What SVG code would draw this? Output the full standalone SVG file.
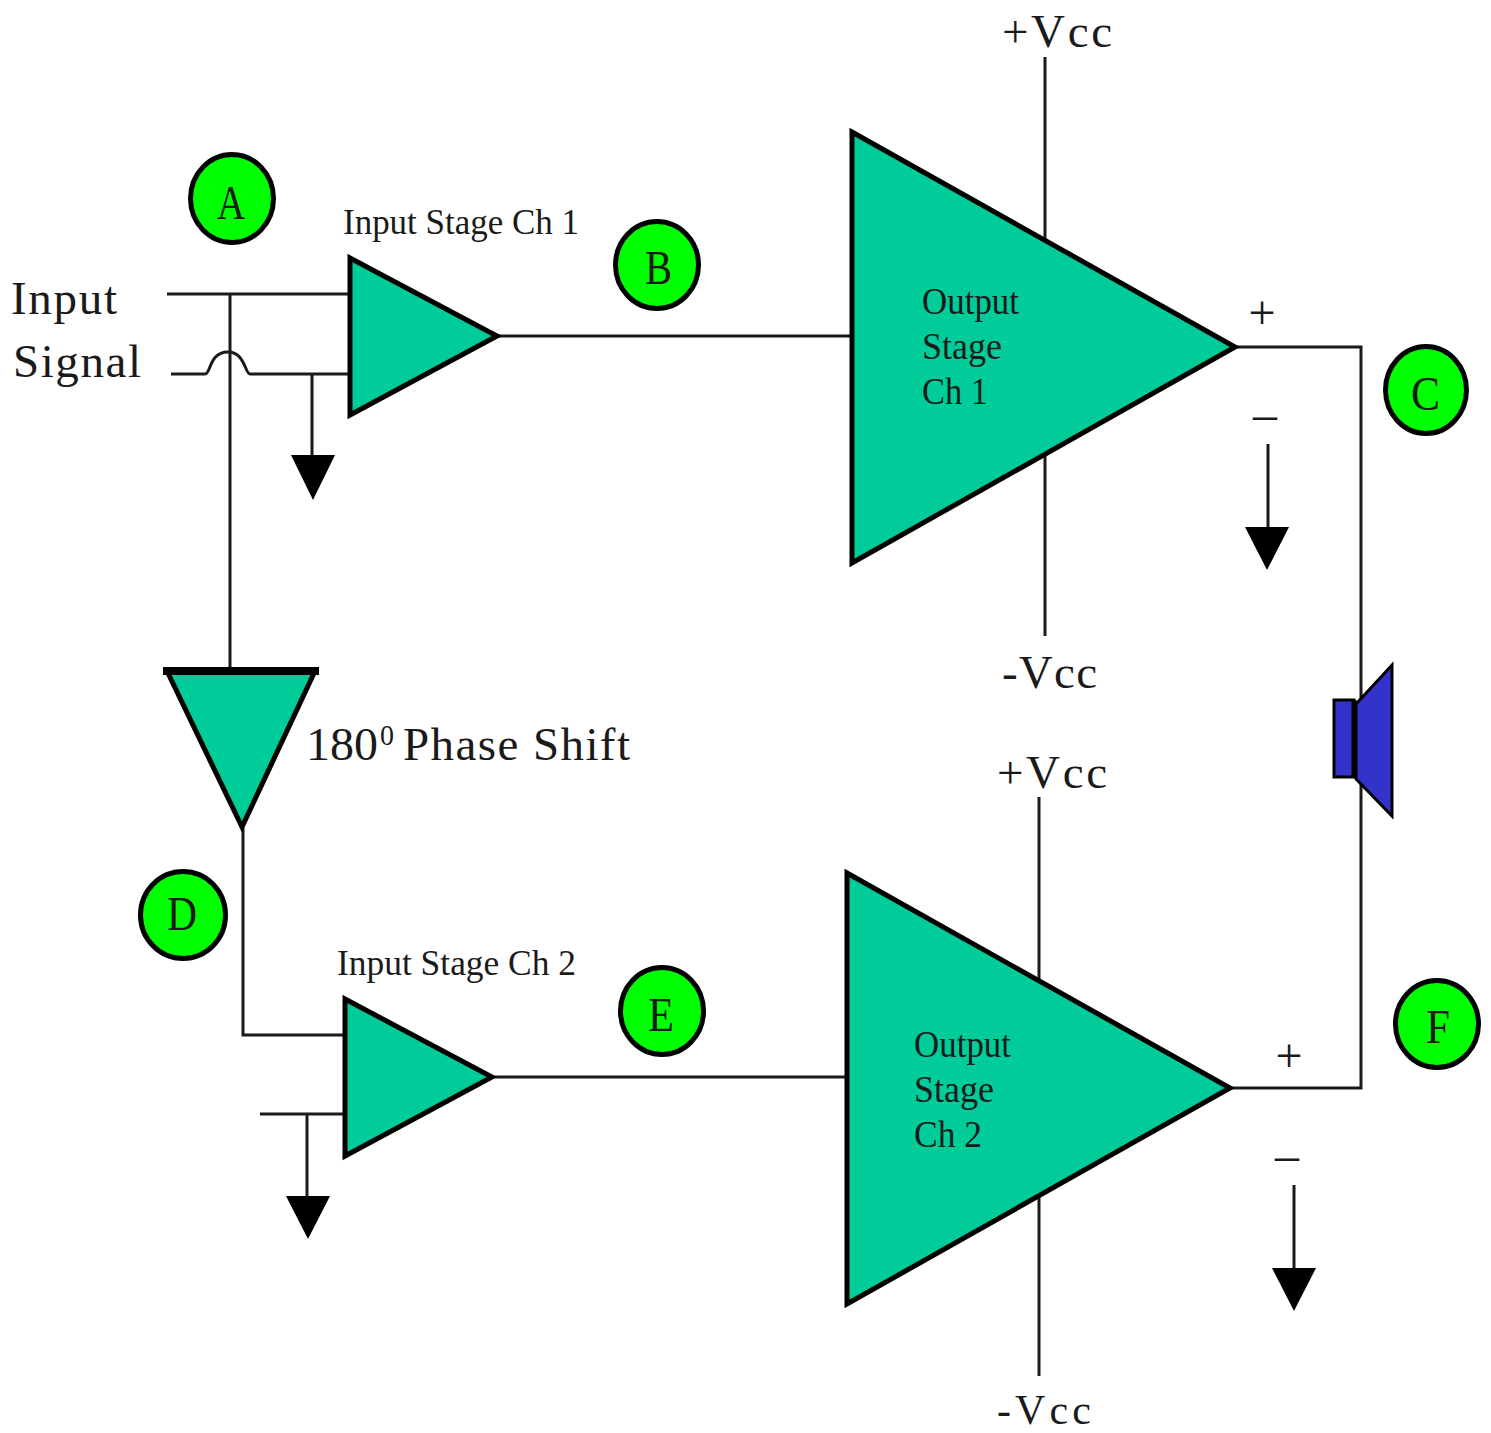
<svg xmlns="http://www.w3.org/2000/svg" width="1491" height="1433" viewBox="0 0 1491 1433">
<style>
text{font-family:"Liberation Serif","Times New Roman",serif;fill:#1a1a1a}
.w{fill:none;stroke:#1a1a1a;stroke-width:3}
.amp{fill:#00cc99;stroke:#000;stroke-width:5;stroke-linejoin:miter}
.bub{fill:#00ff00;stroke:#000;stroke-width:5}
.gnd{fill:#000;stroke:none}
.spk{fill:#3333cc;stroke:#000;stroke-width:3}
.big{font-size:47px}
.mid{font-size:37px}
.sml{font-size:35px}
.ltr{font-size:48px}
.sign{font-size:48px;text-anchor:middle}
</style>
<g id="connectors" class="w">
<path d="M167 294H349"/>
<path d="M230 294V670"/>
<path d="M171 374H205C211 374 209 352 228 352C245 352 245 374 250 374H349"/>
<path d="M312 374V458"/>
<path d="M499 336H852"/>
<path d="M1045 57V240"/>
<path d="M1045 455V636"/>
<path d="M1237 347H1361V1088H1232"/>
<path d="M1268 444V530"/>
<path d="M243 828V1035H345"/>
<path d="M260 1114H345"/>
<path d="M307 1114V1198"/>
<path d="M495 1077H847"/>
<path d="M1039 797V980"/>
<path d="M1039 1196V1376"/>
<path d="M1294 1185V1271"/>
</g>
<g id="gnd-1"><polygon class="gnd" points="291,455 335,455 313,500"/></g>
<g id="gnd-2"><polygon class="gnd" points="1245,527 1289,527 1267,570"/></g>
<g id="gnd-3"><polygon class="gnd" points="286,1196 330,1196 308,1239"/></g>
<g id="gnd-4"><polygon class="gnd" points="1272,1268 1316,1268 1294,1311"/></g>
<g id="input-stage-1"><polygon class="amp" points="350,258 497,336 350,415"/>
<text class="sml" x="343" y="234" textLength="236" lengthAdjust="spacingAndGlyphs">Input Stage Ch 1</text></g>
<g id="input-stage-2"><polygon class="amp" points="345,999 492,1077 345,1156"/>
<text class="sml" x="337" y="975" textLength="239" lengthAdjust="spacingAndGlyphs">Input Stage Ch 2</text></g>
<g id="output-stage-1"><polygon class="amp" points="852,132 1235,347 852,563"/>
<text class="mid" x="922" y="314" textLength="97" lengthAdjust="spacingAndGlyphs">Output</text>
<text class="mid" x="922" y="359" textLength="80" lengthAdjust="spacingAndGlyphs">Stage</text>
<text class="mid" x="922" y="404" textLength="66" lengthAdjust="spacingAndGlyphs">Ch 1</text></g>
<g id="output-stage-2"><polygon class="amp" points="847,873 1230,1088 847,1304"/>
<text class="mid" x="914" y="1057" textLength="97" lengthAdjust="spacingAndGlyphs">Output</text>
<text class="mid" x="914" y="1102" textLength="80" lengthAdjust="spacingAndGlyphs">Stage</text>
<text class="mid" x="914" y="1147" textLength="68" lengthAdjust="spacingAndGlyphs">Ch 2</text></g>
<g id="phase-shift"><polygon class="amp" points="167,671 315,671 242,827"/>
<path d="M163 671H319" stroke="#000" stroke-width="8" fill="none"/>
<text class="big" x="306" y="760" textLength="72" lengthAdjust="spacingAndGlyphs">180</text>
<text font-size="29" x="380" y="745" textLength="14" lengthAdjust="spacingAndGlyphs">0</text>
<text class="big" x="403" y="760" textLength="227" lengthAdjust="spacing">Phase Shift</text></g>
<g id="speaker"><polygon class="spk" points="1356,704 1392,665 1392,816 1356,779"/>
<rect class="spk" x="1334" y="700" width="20" height="77"/>
<path d="M1354 700V777" stroke="#000" stroke-width="5" fill="none"/></g>
<g id="node-a"><ellipse class="bub" cx="232" cy="198.500" rx="41.500" ry="44"/><text class="ltr" x="217" y="219" textLength="28" lengthAdjust="spacingAndGlyphs">A</text></g>
<g id="node-b"><ellipse class="bub" cx="657" cy="265" rx="41.500" ry="43.500"/><text class="ltr" x="645" y="284" textLength="27" lengthAdjust="spacingAndGlyphs">B</text></g>
<g id="node-c"><ellipse class="bub" cx="1426" cy="390" rx="40.500" ry="43.500"/><text class="ltr" x="1411" y="410" textLength="29" lengthAdjust="spacingAndGlyphs">C</text></g>
<g id="node-d"><ellipse class="bub" cx="183" cy="915" rx="42.500" ry="43.500"/><text class="ltr" x="167" y="930" textLength="30" lengthAdjust="spacingAndGlyphs">D</text></g>
<g id="node-e"><ellipse class="bub" cx="662" cy="1011" rx="41.500" ry="43.500"/><text class="ltr" x="648" y="1031" textLength="26" lengthAdjust="spacingAndGlyphs">E</text></g>
<g id="node-f"><ellipse class="bub" cx="1437" cy="1024" rx="41.500" ry="43.500"/><text class="ltr" x="1426" y="1043" textLength="24" lengthAdjust="spacingAndGlyphs">F</text></g>
<g id="labels">
<text class="big" x="11" y="314" textLength="106" lengthAdjust="spacing">Input</text>
<text class="big" x="13" y="377" textLength="128" lengthAdjust="spacing">Signal</text>
<text class="big" x="1002" y="47" textLength="110" lengthAdjust="spacing">+Vcc</text>
<text class="big" x="1002" y="688" textLength="95" lengthAdjust="spacing">-Vcc</text>
<text class="big" x="997" y="788" textLength="110" lengthAdjust="spacing">+Vcc</text>
<text font-size="42" x="997" y="1424" textLength="94" lengthAdjust="spacing">-Vcc</text>
<text class="sign" x="1262" y="329">+</text>
<text class="sign" x="1265" y="430">–</text>
<text class="sign" x="1289" y="1072">+</text>
<text class="sign" x="1287" y="1171">–</text>
</g>
</svg>
